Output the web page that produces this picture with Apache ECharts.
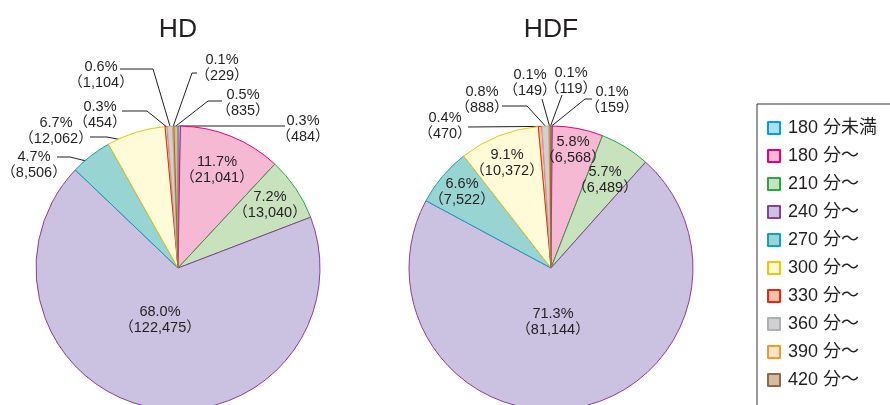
<!DOCTYPE html>
<html>
<head>
<meta charset="utf-8">
<script src="https://cdn.jsdelivr.net/npm/echarts@6/dist/echarts.min.js"></script>
<style>
html, body { margin: 0; padding: 0; background: #fff; }
#main { width: 890px; height: 405px; }
</style>
</head>
<body>
<div id="main"></div>
<script>
// データ
const categories = ['180 分未満', '180 分～', '210 分～', '240 分～', '270 分～', '300 分～', '330 分～', '360 分～', '390 分～', '420 分～']
const hdValues = [484, 21041, 13040, 122475, 8506, 12062, 454, 1104, 229, 835]
const hdPercents = ['0.3', '11.7', '7.2', '68.0', '4.7', '6.7', '0.3', '0.6', '0.1', '0.5']
const hdfValues = [159, 6568, 6489, 81144, 7522, 10372, 470, 888, 149, 119]
const hdfPercents = ['0.1', '5.8', '5.7', '71.3', '6.6', '9.1', '0.4', '0.8', '0.1', '0.1']

// 色 (塗り / 枠)
const fills = ['#aee0f7', '#f5b9d3', '#c9e2be', '#cbc1e0', '#98d4d2', '#fffbd9', '#f8c0a5', '#cfd0d2', '#fde3c8', '#d5bb9f']
const borders = ['#009fe8', '#e5007e', '#2aa745', '#8a3f98', '#0aa3c2', '#f6c200', '#e8261b', '#b0b0b2', '#f39a2e', '#8e6a4a']

const FONT = "'Liberation Sans', 'Noto Sans CJK JP', sans-serif"
const R = 142
const hdCenter = [178, 268]
const hdfCenter = [551, 268]

// ラベル位置 (円の中心からの相対位置)
const hdSpots = [[125, -139], [39, -98], [92, -63], [-18, 52], [-144, -103], [-122, -137], [-78, -153], [-77, -193], [44, -200], [65, -165]]
const hdLeaders = [
    { f: 1, via: [[107, -142]] },
    null, null, null,
    { f: 0.93, via: [[-108, -111], [-121, -111]] },
    { f: 0.92, via: [[-71, -131], [-88, -131]] },
    { f: 1, via: [[-31, -157], [-56, -157]] },
    { f: 1, via: [[-25, -199], [-58, -199]] },
    { f: 1, via: [[14, -195], [19, -195]] },
    { f: 1, via: [[30, -167], [44, -167]] }
]
const hdfSpots = [[61, -168], [22, -118], [54, -88], [2, 54], [-89, -76], [-44, -105], [-106, -142], [-69, -168], [-21, -185], [20, -187]]
const hdfLeaders = [
    { f: 1, via: [[34, -169], [41, -169]] },
    null, null, null, null, null,
    { f: 1, via: [[-83, -141]] },
    { f: 1, via: [[-24, -162], [-49, -162]] },
    { f: 1, via: [[-9, -169]] },
    { f: 1, via: [[11, -173]] }
]

function makeData(values, leaders) {
    let arr = []
    for (let i = 0; i < values.length; i++) {
        arr.push({
            name: categories[i],
            value: values[i],
            itemStyle: { color: fills[i], borderColor: borders[i], borderWidth: 1 },
            labelLine: { show: !!leaders[i] }
        })
    }
    return arr
}

function makeLayout(center, spots, leaders) {
    let cx = center[0], cy = center[1]
    return function (params) {
        let i = params.dataIndex
        let s = spots[i]
        let res = { x: cx + s[0], y: cy + s[1], align: 'center', verticalAlign: 'middle' }
        let ld = leaders[i]
        if (ld && params.labelLinePoints) {
            let p0 = params.labelLinePoints[0]
            let pts = [[cx + (p0[0] - cx) * ld.f, cy + (p0[1] - cy) * ld.f]]
            ld.via.forEach(function (v) { pts.push([cx + v[0], cy + v[1]]) })
            if (pts.length < 3) pts.push(pts[pts.length - 1].slice())
            res.labelLinePoints = pts
        }
        return res
    }
}

function makeSeries(name, center, values, percents, spots, leaders) {
    return {
        name: name,
        type: 'pie',
        center: center,
        radius: R,
        startAngle: 90,
        clockwise: true,
        avoidLabelOverlap: false,
        animation: false,
        emphasis: { disabled: true },
        data: makeData(values, leaders),
        label: {
            show: true,
            position: 'outside',
            fontFamily: FONT,
            fontSize: 14.5,
            lineHeight: 16,
            color: '#231f20',
            formatter: function (p) {
                return percents[p.dataIndex] + '%\n（' + p.value.toLocaleString('en-US') + '）'
            }
        },
        labelLine: {
            show: true,
            smooth: false,
            lineStyle: { color: '#231f20', width: 1 }
        },
        labelLayout: makeLayout(center, spots, leaders)
    }
}

let chart = echarts.init(document.getElementById('main'), null, { renderer: 'canvas' })
let titleStyle = { fontFamily: FONT, fontSize: 26.5, fontWeight: 'normal', color: '#231f20' }
let option = {
    backgroundColor: '#fff',
    title: [
        { text: 'HD', left: hdCenter[0], top: 16, padding: 0, textAlign: 'center', textStyle: titleStyle },
        { text: 'HDF', left: hdfCenter[0], top: 16, padding: 0, textAlign: 'center', textStyle: titleStyle }
    ],
    legend: {
        orient: 'vertical',
        left: 757,
        top: 104,
        height: 330,
        padding: [14, 90, 30, 10],
        borderColor: '#333',
        borderWidth: 1,
        itemWidth: 12,
        itemHeight: 12,
        itemGap: 8,
        icon: 'rect',
        data: categories,
        selectedMode: false,
        textStyle: { fontFamily: FONT, fontSize: 18, lineHeight: 20, color: '#231f20', padding: [0, 0, 0, 3] }
    },
    series: [
        makeSeries('HD', hdCenter, hdValues, hdPercents, hdSpots, hdLeaders),
        makeSeries('HDF', hdfCenter, hdfValues, hdfPercents, hdfSpots, hdfLeaders)
    ]
}
chart.setOption(option)
</script>
</body>
</html>
